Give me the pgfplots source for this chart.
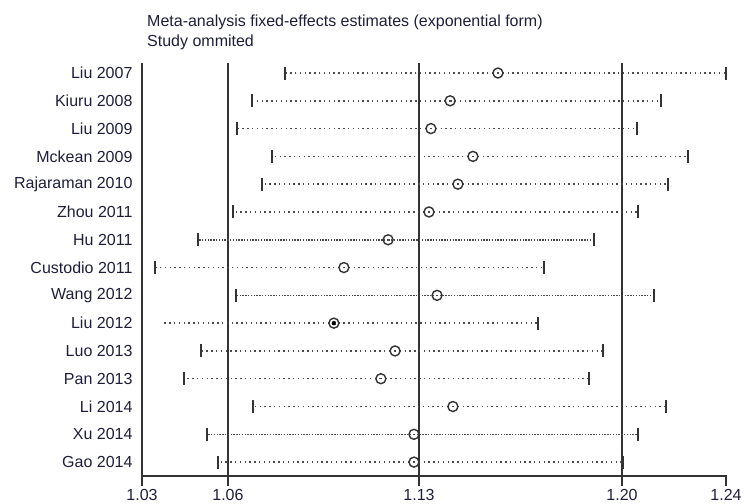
\documentclass[border=0pt]{standalone}
\usepackage{pgfplots}
\pgfplotsset{compat=1.18}
\usepackage{pgfplotstable}
\usepackage{fontspec}
\setmainfont{Liberation Sans}
\definecolor{ln}{HTML}{333333}
\definecolor{dt}{HTML}{4A4A4A}
\definecolor{tl}{HTML}{1E1E3C}

% row lower estimate upper
\pgfplotstableread{
y lo est hi
1 1.0814 1.1580 1.2400
2 1.0696 1.1408 1.2166
3 1.0642 1.1339 1.2080
4 1.0767 1.1490 1.2263
5 1.0731 1.1436 1.2191
6 1.0627 1.1332 1.2084
8 1.0347 1.1026 1.1746
11 1.0512 1.1210 1.1958
12 1.0451 1.1159 1.1907
13 1.0699 1.1418 1.2184
15 1.0573 1.1278 1.2030
}\sparse

\pgfplotstableread{
y lo est hi
7 1.0501 1.1185 1.1925
9 1.0638 1.1361 1.2141
14 1.0534 1.1278 1.2084
}\dense

\pgfplotstableread{
y lo est hi
10 1.0379 1.0990 1.1724
}\noleft

\begin{document}
\begin{tikzpicture}
\path[use as bounding box] (0pt,0pt) rectangle (746pt,503pt);
\node[anchor=base west, inner sep=0pt, font=\fontsize{16}{19}\selectfont, text=tl] at (147pt,476pt) {Meta-analysis fixed-effects estimates (exponential form)};
\node[anchor=base west, inner sep=0pt, font=\fontsize{16}{19}\selectfont, text=tl] at (147pt,456pt) {Study ommited};
\begin{axis}[
  at={(142pt,27pt)}, anchor=south west,
  scale only axis, width=584pt, height=413pt,
  xmin=1.03, xmax=1.24, ymin=0.64, ymax=15.5,
  y dir=reverse, clip=false,
  axis x line*=bottom, axis y line*=left,
  axis line style={line width=1.4pt, color=ln, -},
  xtick={1.03,1.0609,1.1296,1.2026,1.24},
  xticklabels={1.03,1.06,1.13,1.20,1.24},
  major tick length=0pt,
  ytick={1,...,15},
  yticklabels={Liu 2007,Kiuru 2008,Liu 2009,Mckean 2009,Rajaraman 2010,Zhou 2011,Hu 2011,Custodio 2011,Wang 2012,Liu 2012,Luo 2013,Pan 2013,Li 2014,Xu 2014,Gao 2014},
  ticklabel style={font=\fontsize{16}{19}\selectfont, text=tl},
  xticklabel style={yshift=-10pt},
  yticklabel style={xshift=-6pt},
]
\draw[line width=1.4pt, color=ln] (axis cs:1.0609,0.64) -- (axis cs:1.0609,15.5);
\draw[line width=1.4pt, color=ln] (axis cs:1.1296,0.64) -- (axis cs:1.1296,15.5);
\draw[line width=1.4pt, color=ln] (axis cs:1.2026,0.64) -- (axis cs:1.2026,15.5);

\addplot[only marks, mark=o, mark size=5pt, mark options={line width=1.4pt, color=ln},
  error bars/.cd, x dir=both, x explicit, error mark=|,
  error bar style={line width=1.5pt, color=dt, dash pattern=on 1.4pt off 3.4pt},
  error mark options={line width=2pt, mark size=6.5pt, color=ln, solid}]
  table[x=est, y=y, x error plus expr=\thisrow{hi}-\thisrow{est}, x error minus expr=\thisrow{est}-\thisrow{lo}] {\sparse};

\addplot[only marks, mark=o, mark size=5pt, mark options={line width=1.4pt, color=ln},
  error bars/.cd, x dir=both, x explicit, error mark=|,
  error bar style={line width=1.5pt, color=dt, dash pattern=on 1.4pt off 1.4pt},
  error mark options={line width=2pt, mark size=6.5pt, color=ln, solid}]
  table[x=est, y=y, x error plus expr=\thisrow{hi}-\thisrow{est}, x error minus expr=\thisrow{est}-\thisrow{lo}] {\dense};

\addplot[only marks, mark=o, mark size=5pt, mark options={line width=1.4pt, color=ln},
  error bars/.cd, x dir=plus, x explicit, error mark=|,
  error bar style={line width=1.5pt, color=dt, dash pattern=on 1.4pt off 3.4pt},
  error mark options={line width=2pt, mark size=6.5pt, color=ln, solid}]
  table[x=est, y=y, x error plus expr=\thisrow{hi}-\thisrow{est}] {\noleft};
\addplot[only marks, mark=none,
  error bars/.cd, x dir=minus, x explicit, error mark=none,
  error bar style={line width=1.5pt, color=dt, dash pattern=on 1.4pt off 3.4pt}]
  table[x=est, y=y, x error minus expr=\thisrow{est}-\thisrow{lo}] {\noleft};
\end{axis}
% x-axis tick marks below the axis line
\foreach \px in {142,227.93,418.98,621.99,726}
  \draw[line width=1.4pt, color=ln] (\px pt,27.7pt) -- (\px pt,17pt);
\end{tikzpicture}
\end{document}
